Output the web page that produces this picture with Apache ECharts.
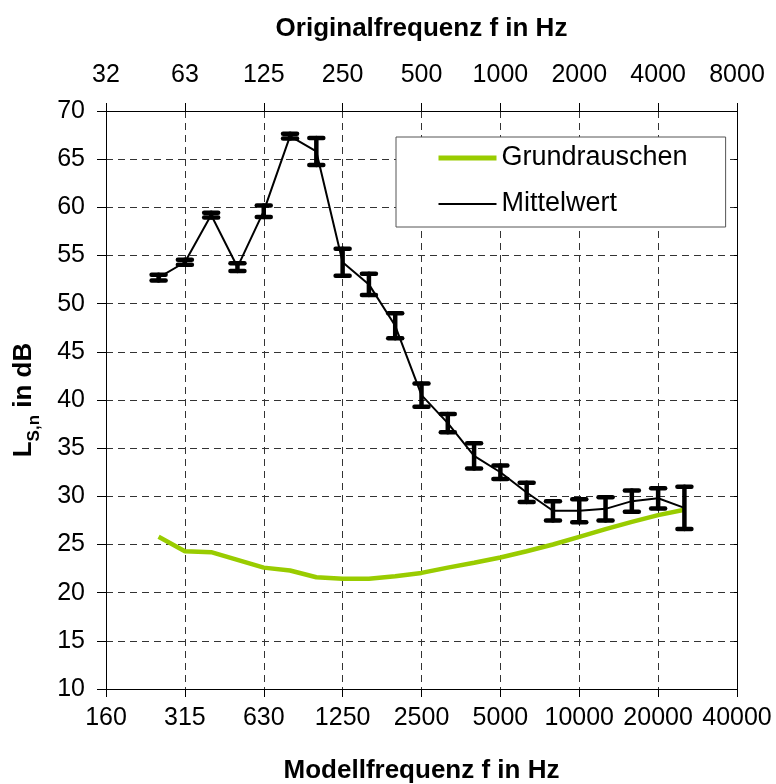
<!DOCTYPE html>
<html>
<head>
<meta charset="utf-8">
<script src="https://cdn.jsdelivr.net/npm/echarts@6/dist/echarts.min.js"></script>
<style>
html,body{margin:0;padding:0;background:#fff;}
#chart{width:776px;height:784px;}
</style>
</head>
<body>
<div id="chart"></div>
<script>
// Bottom axis categories (Modellfrequenz, third-octave bands)
const categories = ['160','200','250','315','400','500','630','800','1000','1250','1600','2000','2500','3150','4000','5000','6300','8000','10000','12500','16000','20000','25000','31500','40000'];
// Top axis categories (Originalfrequenz)
const topLabels = ['32','40','50','63','80','100','125','160','200','250','315','400','500','630','800','1000','1250','1600','2000','2500','3150','4000','5000','6300','8000'];
// Measured bands
const freqs = ['250','315','400','500','630','800','1000','1250','1600','2000','2500','3150','4000','5000','6300','8000','10000','12500','16000','20000','25000'];
const mean  = [52.7, 54.3, 59.2, 53.8, 59.6, 67.4, 65.8, 54.3, 52.0, 47.7, 40.5, 37.6, 34.2, 32.5, 30.4, 28.5, 28.5, 28.7, 29.5, 29.8, 28.8];
const err   = [0.3, 0.25, 0.25, 0.4, 0.6, 0.25, 1.4, 1.4, 1.1, 1.3, 1.2, 0.95, 1.3, 0.7, 1.0, 1.0, 1.2, 1.2, 1.1, 1.05, 2.2];
const noise = [25.8, 24.3, 24.2, 23.4, 22.6, 22.3, 21.6, 21.45, 21.45, 21.7, 22.05, 22.6, 23.1, 23.65, 24.3, 25.0, 25.8, 26.6, 27.35, 28.05, 28.6];
const yTicks = {min: 10, max: 70, step: 5};

const FONT = '"Liberation Sans", Arial, Helvetica, sans-serif';
const chart = echarts.init(document.getElementById('chart'), null, {renderer: 'canvas'});

const gridLine = {show: true, interval: 2, lineStyle: {color: '#333', type: [7, 5], width: 1}};

const option = {
  backgroundColor: '#fff',
  animation: false,
  textStyle: {fontFamily: FONT},
  grid: {left: 106, right: 39, top: 111, bottom: 95, containLabel: false, outerBoundsMode: 'none'},
  legend: {
    orient: 'vertical',
    left: 396, top: 137,
    padding: [6, 38, 8, 40],
    itemWidth: 58, itemHeight: 14, itemGap: 16,
    backgroundColor: '#fff',
    borderColor: '#555', borderWidth: 1,
    itemStyle: {opacity: 0, borderWidth: 0},
    textStyle: {fontSize: 27, color: '#000', fontFamily: FONT, lineHeight: 30},
    data: [
      {name: 'Grundrauschen', lineStyle: {width: 5, color: '#99cc00'}},
      {name: 'Mittelwert', lineStyle: {width: 2, color: '#000'}}
    ]
  },
  xAxis: [
    {
      type: 'category', data: categories, boundaryGap: false, position: 'bottom',
      axisLine: {show: true, lineStyle: {color: '#000', width: 1}},
      axisTick: {show: true, interval: 2, length: 8, inside: false, lineStyle: {color: '#000'}},
      axisLabel: {interval: 2, fontSize: 25, color: '#000', margin: 17, fontFamily: FONT},
      splitLine: gridLine,
      name: 'Modellfrequenz f in Hz', nameLocation: 'middle', nameGap: 69,
      nameTextStyle: {fontSize: 26, fontWeight: 'bold', color: '#000', fontFamily: FONT}
    },
    {
      type: 'category', data: topLabels, boundaryGap: false, position: 'top',
      axisLine: {show: true, lineStyle: {color: '#000', width: 1}},
      axisTick: {show: true, interval: 2, length: 8, inside: false, lineStyle: {color: '#000'}},
      axisLabel: {interval: 2, fontSize: 25, color: '#000', margin: 23, fontFamily: FONT},
      splitLine: {show: false},
      name: 'Originalfrequenz f in Hz', nameLocation: 'middle', nameGap: 69,
      nameTextStyle: {fontSize: 26, fontWeight: 'bold', color: '#000', fontFamily: FONT}
    }
  ],
  yAxis: [
    {
      type: 'value', min: yTicks.min, max: yTicks.max, interval: yTicks.step, position: 'left',
      axisLine: {show: true, lineStyle: {color: '#000', width: 1}},
      axisTick: {show: true, length: 9, inside: false, lineStyle: {color: '#000'}},
      axisLabel: {fontSize: 25, color: '#000', margin: 21, fontFamily: FONT},
      splitLine: {show: true, lineStyle: {color: '#333', type: [7, 5], width: 1}},
      name: '{a|L}{b|S,n}{a| in dB}', nameLocation: 'middle', nameGap: 63, nameRotate: 90,
      nameTextStyle: {
        rich: {
          a: {fontSize: 26, fontWeight: 'bold', color: '#000', fontFamily: FONT, padding: [0, 0, 6, 0], verticalAlign: 'bottom'},
          b: {fontSize: 17, fontWeight: 'bold', color: '#000', fontFamily: FONT, verticalAlign: 'bottom'}
        }
      }
    },
    {
      type: 'value', min: yTicks.min, max: yTicks.max, interval: yTicks.step, position: 'right',
      axisLine: {show: true, lineStyle: {color: '#000', width: 1}},
      axisTick: {show: true, length: 3, inside: true, lineStyle: {color: '#000'}},
      axisLabel: {show: false},
      splitLine: {show: false}
    }
  ],
  series: [
    {
      name: 'Grundrauschen', type: 'line', xAxisIndex: 0, yAxisIndex: 0,
      data: freqs.map((f, i) => [f, noise[i]]),
      symbol: 'none', z: 2,
      lineStyle: {color: '#99cc00', width: 4.5},
      itemStyle: {color: '#99cc00'}
    },
    {
      name: 'Mittelwert', type: 'line', xAxisIndex: 0, yAxisIndex: 0,
      data: freqs.map((f, i) => [f, mean[i]]),
      symbol: 'none', z: 3,
      lineStyle: {color: '#000', width: 2},
      itemStyle: {color: '#000'}
    },
    {
      name: 'Fehler', type: 'custom', xAxisIndex: 0, yAxisIndex: 0, z: 4,
      data: freqs.map((f, i) => [f, mean[i] - err[i], mean[i] + err[i]]),
      encode: {x: 0, y: [1, 2]},
      renderItem: function (params, api) {
        const xi = api.value(0);
        const lo = api.coord([xi, api.value(1)]);
        const hi = api.coord([xi, api.value(2)]);
        const hw = 7;
        const st = {stroke: '#000', lineWidth: 4.5, lineCap: 'round'};
        return {
          type: 'group',
          children: [
            {type: 'line', shape: {x1: lo[0], y1: lo[1], x2: hi[0], y2: hi[1]}, style: st},
            {type: 'line', shape: {x1: lo[0] - hw, y1: lo[1], x2: lo[0] + hw, y2: lo[1]}, style: st},
            {type: 'line', shape: {x1: hi[0] - hw, y1: hi[1], x2: hi[0] + hw, y2: hi[1]}, style: st}
          ]
        };
      }
    }
  ]
};
chart.setOption(option);
</script>
</body>
</html>
